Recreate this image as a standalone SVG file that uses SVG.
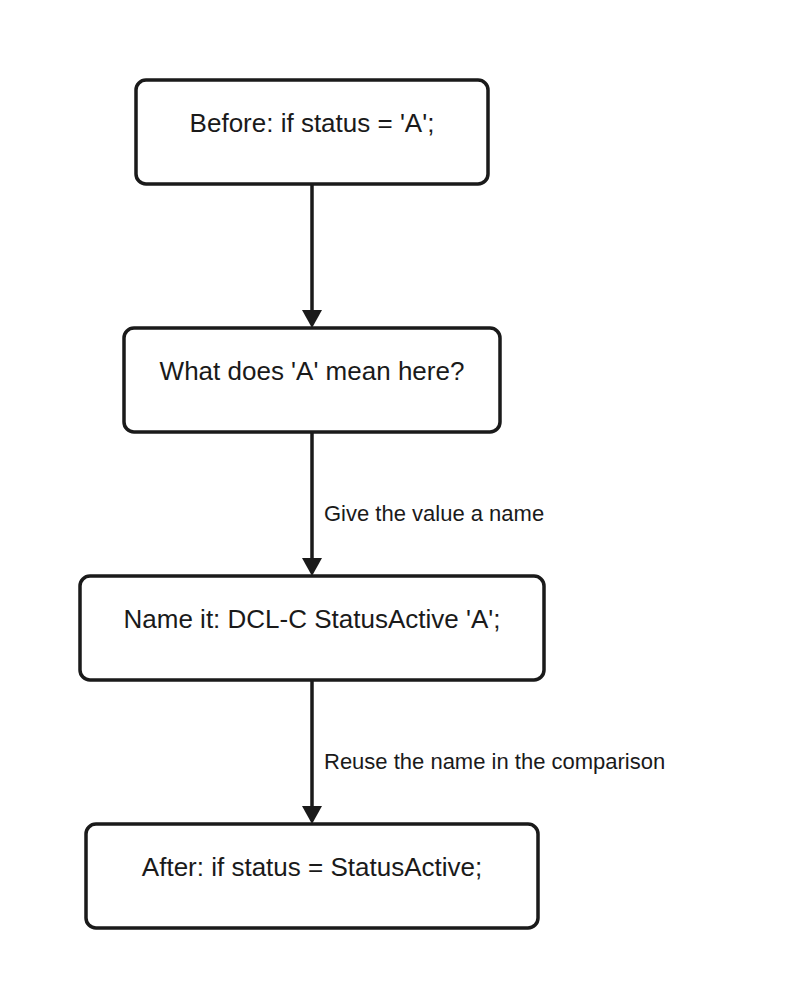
<svg xmlns="http://www.w3.org/2000/svg" width="802" height="1008" viewBox="0 0 802 1008">
<style>
.box{fill:#fff;stroke:#1a1a1a;stroke-width:3.5}
.t{font-family:"Liberation Sans",Arial,sans-serif;font-size:26px;fill:#1a1a1a;text-anchor:middle}
.l{font-family:"Liberation Sans",Arial,sans-serif;font-size:22px;fill:#1a1a1a}
.c{stroke:#1a1a1a;stroke-width:3.5;fill:none}
</style>
<defs><marker id="a" markerWidth="20" markerHeight="18" refX="10" refY="18" orient="auto-start-reverse" markerUnits="userSpaceOnUse" viewBox="0 0 20 18"><path d="M0,0 L20,0 L10,18 Z" fill="#1a1a1a"/></marker></defs>
<rect width="802" height="1008" fill="#fff"/>
<g id="connectors">
<path class="c" d="M312,184 V310"/><path d="M302,310 H322 L312,328 Z" fill="#1a1a1a"/>
<path class="c" d="M312,432 V558"/><path d="M302,558 H322 L312,576 Z" fill="#1a1a1a"/>
<path class="c" d="M312,680 V806"/><path d="M302,806 H322 L312,824 Z" fill="#1a1a1a"/>
<text class="l" x="324" y="521">Give the value a name</text>
<text class="l" x="324" y="769">Reuse the name in the comparison</text>
</g>
<g id="n1"><rect class="box" x="136" y="80" width="352" height="104" rx="10"/><text class="t" x="312" y="132">Before: if status = 'A';</text></g>
<g id="n2"><rect class="box" x="124" y="328" width="376" height="104" rx="10"/><text class="t" x="312" y="380">What does 'A' mean here?</text></g>
<g id="n3"><rect class="box" x="80" y="576" width="464" height="104" rx="10"/><text class="t" x="312" y="628">Name it: DCL-C StatusActive 'A';</text></g>
<g id="n4"><rect class="box" x="86" y="824" width="452" height="104" rx="10"/><text class="t" x="312" y="876">After: if status = StatusActive;</text></g>
</svg>
